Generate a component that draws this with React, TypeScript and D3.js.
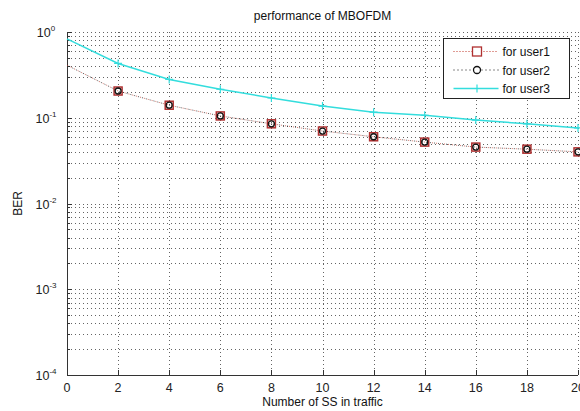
import * as d3 from "d3";
import { useEffect, useRef } from "react";

const ssCount = [0, 2, 4, 6, 8, 10, 12, 14, 16, 18, 20];
const berUser1 = [0.41, 0.205, 0.14, 0.105, 0.085, 0.07, 0.06, 0.052, 0.0455, 0.043, 0.04];
const berUser2 = [0.41, 0.205, 0.14, 0.105, 0.085, 0.07, 0.06, 0.052, 0.0455, 0.043, 0.04];
const berUser3 = [0.83, 0.43, 0.28, 0.215, 0.17, 0.137, 0.116, 0.107, 0.094, 0.085, 0.076];
const xTicks = [0, 2, 4, 6, 8, 10, 12, 14, 16, 18, 20];
const yDecades = [-4, -3, -2, -1, 0];
const legendLabels = ["for user1", "for user2", "for user3"];

const width = 580;
const height = 411;
const margin = { top: 32, right: 2, bottom: 36, left: 67 };

export default function App() {
  const ref = useRef<SVGSVGElement>(null);

  useEffect(() => {
    const svg = d3.select(ref.current);
    svg.selectAll("*").remove();

    const x = d3
      .scaleLinear()
      .domain([0, 20])
      .range([margin.left, width - margin.right]);
    const y = d3
      .scaleLog()
      .domain([1e-4, 1])
      .range([height - margin.bottom, margin.top]);

    const font = "Arial, 'Liberation Sans', sans-serif";
    const g = svg.append("g");

    // grid: vertical at major x ticks, horizontal at every log minor step
    const minor: number[] = [];
    yDecades.slice(0, -1).forEach((e) => {
      for (let k = 1; k <= 9; k++) minor.push(k * Math.pow(10, e));
    });
    minor.push(1);

    g.selectAll(".hgrid")
      .data(minor)
      .enter()
      .append("line")
      .attr("x1", x(0))
      .attr("x2", x(20))
      .attr("y1", (d) => Math.round(y(d)) + 0.5)
      .attr("y2", (d) => Math.round(y(d)) + 0.5)
      .attr("stroke", "#222")
      .attr("stroke-opacity", 0.7)
      .attr("stroke-dasharray", "1,3");

    g.selectAll(".vgrid")
      .data(xTicks.slice(1))
      .enter()
      .append("line")
      .attr("x1", (d) => Math.round(x(d)) + 0.5)
      .attr("x2", (d) => Math.round(x(d)) + 0.5)
      .attr("y1", y(1))
      .attr("y2", y(1e-4))
      .attr("stroke", "#222")
      .attr("stroke-opacity", 0.7)
      .attr("stroke-dasharray", "1,3");

    // axes lines
    g.append("line")
      .attr("x1", x(0) + 0.5)
      .attr("x2", x(0) + 0.5)
      .attr("y1", y(1))
      .attr("y2", y(1e-4))
      .attr("stroke", "#333");
    g.append("line")
      .attr("x1", x(0))
      .attr("x2", x(20))
      .attr("y1", Math.round(y(1e-4)) + 0.5)
      .attr("y2", Math.round(y(1e-4)) + 0.5)
      .attr("stroke", "#333");

    // tick marks (inside)
    g.selectAll(".xt")
      .data(xTicks)
      .enter()
      .append("line")
      .attr("x1", (d) => Math.round(x(d)) + 0.5)
      .attr("x2", (d) => Math.round(x(d)) + 0.5)
      .attr("y1", y(1e-4))
      .attr("y2", y(1e-4) - 5)
      .attr("stroke", "#333");
    g.selectAll(".yt")
      .data(minor)
      .enter()
      .append("line")
      .attr("x1", x(0))
      .attr("x2", (d) => x(0) + (Math.abs(Math.log10(d) - Math.round(Math.log10(d))) < 1e-9 ? 5 : 3))
      .attr("y1", (d) => Math.round(y(d)) + 0.5)
      .attr("y2", (d) => Math.round(y(d)) + 0.5)
      .attr("stroke", "#333");

    // tick labels
    g.selectAll(".xl")
      .data(xTicks)
      .enter()
      .append("text")
      .attr("x", (d) => x(d))
      .attr("y", y(1e-4) + 17)
      .attr("text-anchor", "middle")
      .attr("font-family", font)
      .attr("font-size", 12.5)
      .attr("fill", "#222")
      .text((d) => d);

    const yl = g
      .selectAll(".yl")
      .data(yDecades)
      .enter()
      .append("text")
      .attr("x", x(0) - 21)
      .attr("y", (d) => y(Math.pow(10, d)) + 5)
      .attr("text-anchor", "middle")
      .attr("font-family", font)
      .attr("font-size", 12.5)
      .attr("fill", "#222");
    yl.append("tspan").text("10");
    yl.append("tspan")
      .attr("dy", -6)
      .attr("font-size", 8)
      .text((d) => d);

    // titles
    svg
      .append("text")
      .attr("x", (x(0) + x(20)) / 2)
      .attr("y", 20)
      .attr("text-anchor", "middle")
      .attr("font-family", font)
      .attr("font-size", 12)
      .attr("fill", "#111")
      .text("performance of MBOFDM");
    svg
      .append("text")
      .attr("x", (x(0) + x(20)) / 2)
      .attr("y", 406)
      .attr("text-anchor", "middle")
      .attr("font-family", font)
      .attr("font-size", 12)
      .attr("fill", "#111")
      .text("Number of SS in traffic");
    svg
      .append("text")
      .attr("transform", `translate(22,${(y(1) + y(1e-4)) / 2}) rotate(-90)`)
      .attr("text-anchor", "middle")
      .attr("font-family", font)
      .attr("font-size", 12)
      .attr("fill", "#111")
      .text("BER");

    // series
    const line = d3
      .line<number>()
      .x((_, i) => x(ssCount[i]))
      .y((d) => y(d));

    g.append("path")
      .attr("d", line(berUser3))
      .attr("fill", "none")
      .attr("stroke", "#33dddd")
      .attr("stroke-width", 1.5);
    g.append("path")
      .attr("d", line(berUser1))
      .attr("fill", "none")
      .attr("stroke", "#c0392b")
      .attr("stroke-opacity", 0.7)
      .attr("stroke-dasharray", "1,3");
    g.append("path")
      .attr("d", line(berUser2))
      .attr("fill", "none")
      .attr("stroke", "#111")
      .attr("stroke-opacity", 0.7)
      .attr("stroke-dasharray", "1,3")
      .attr("stroke-dashoffset", 2);

    const pts = (arr: number[]) =>
      arr.map((v, i) => ({ x: ssCount[i], v })).filter((d) => d.x > 0);

    g.selectAll(".m3")
      .data(pts(berUser3))
      .enter()
      .append("path")
      .attr("d", (d) => {
        const cx = x(d.x);
        const cy = y(d.v);
        return `M${cx - 4},${cy}H${cx + 4}M${cx},${cy - 4}V${cy + 4}`;
      })
      .attr("stroke", "#33dddd")
      .attr("stroke-width", 1.2);
    g.selectAll(".m1")
      .data(pts(berUser1))
      .enter()
      .append("rect")
      .attr("x", (d) => x(d.x) - 4)
      .attr("y", (d) => y(d.v) - 4)
      .attr("width", 8)
      .attr("height", 8)
      .attr("fill", "none")
      .attr("stroke", "#b03030")
      .attr("stroke-width", 1.5);
    g.selectAll(".m2")
      .data(pts(berUser2))
      .enter()
      .append("circle")
      .attr("cx", (d) => x(d.x))
      .attr("cy", (d) => y(d.v))
      .attr("r", 3)
      .attr("fill", "none")
      .attr("stroke", "#111")
      .attr("stroke-width", 1.3);

    // legend
    const lg = svg.append("g").attr("transform", "translate(443.5,38.5)");
    lg.append("rect")
      .attr("width", 126)
      .attr("height", 60)
      .attr("fill", "#fff")
      .attr("stroke", "#222");
    legendLabels.forEach((label, i) => {
      const ly = 13 + i * 18.5;
      const row = lg.append("g").attr("transform", `translate(0,${ly})`);
      if (i === 0) {
        row.append("line").attr("x1", 10).attr("x2", 55).attr("stroke", "#c0392b").attr("stroke-dasharray", "1,2");
        row.append("rect").attr("x", 29).attr("y", -4.5).attr("width", 9).attr("height", 9).attr("fill", "#fff").attr("stroke", "#b03030").attr("stroke-width", 1.3);
      } else if (i === 1) {
        row.append("line").attr("x1", 10).attr("x2", 55).attr("stroke", "#111").attr("stroke-dasharray", "1,3");
        row.append("circle").attr("cx", 33.5).attr("r", 3.5).attr("fill", "#fff").attr("stroke", "#111").attr("stroke-width", 1.3);
      } else {
        row.append("line").attr("x1", 10).attr("x2", 55).attr("stroke", "#33dddd").attr("stroke-width", 1.5);
        row.append("path").attr("d", "M33.5,-4V4").attr("stroke", "#33dddd").attr("stroke-width", 1.2);
      }
      row
        .append("text")
        .attr("x", 59)
        .attr("y", 4.5)
        .attr("font-family", font)
        .attr("font-size", 12)
        .attr("fill", "#111")
        .text(label);
    });
  }, []);

  return (
    <svg
      ref={ref}
      width={width}
      height={height}
      style={{ position: "absolute", left: 0, top: 0, background: "#fff" }}
    />
  );
}
